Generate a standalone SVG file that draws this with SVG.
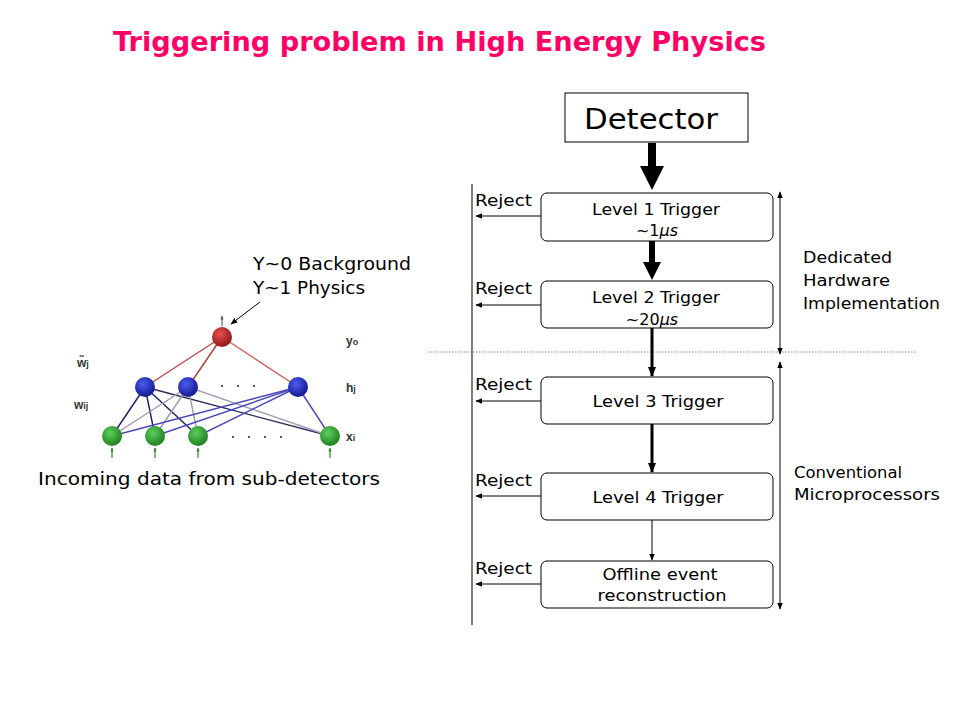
<svg xmlns="http://www.w3.org/2000/svg" width="960" height="720" viewBox="0 0 960 720">
<style>
.t{font-family:"DejaVu Sans","Liberation Sans",sans-serif;fill:#000}
.box{fill:#fff;stroke:#000;stroke-width:1}
.lbl{font-size:16px}
.rej{font-size:15px}
.thin{stroke:#000;stroke-width:1;fill:none}
.nn{font-family:"Liberation Sans",sans-serif;font-size:12px;font-weight:bold;fill:#333}
</style>
<defs>
<marker id="ah" viewBox="0 0 10 10" refX="9" refY="5" markerWidth="7" markerHeight="7" markerUnits="userSpaceOnUse" orient="auto-start-reverse"><path d="M0,1 L10,5 L0,9 z" fill="#000"/></marker>
<marker id="ah2" viewBox="0 0 10 10" refX="9" refY="5" markerWidth="10" markerHeight="10" markerUnits="userSpaceOnUse" orient="auto-start-reverse"><path d="M0,1 L10,5 L0,9 z" fill="#000"/></marker>
<marker id="ahg" viewBox="0 0 10 10" refX="9" refY="5" markerWidth="4" markerHeight="4" markerUnits="userSpaceOnUse" orient="auto"><path d="M0,1 L10,5 L0,9 z" fill="#2a8a2a"/></marker>
<marker id="ahk" viewBox="0 0 10 10" refX="9" refY="5" markerWidth="4" markerHeight="4" markerUnits="userSpaceOnUse" orient="auto"><path d="M0,1 L10,5 L0,9 z" fill="#555"/></marker>
<radialGradient id="gr" cx="0.4" cy="0.35" r="0.7"><stop offset="0" stop-color="#e85050"/><stop offset="1" stop-color="#8a1414"/></radialGradient>
<radialGradient id="gb" cx="0.4" cy="0.35" r="0.7"><stop offset="0" stop-color="#4a5cf0"/><stop offset="1" stop-color="#10148a"/></radialGradient>
<radialGradient id="gg" cx="0.4" cy="0.35" r="0.7"><stop offset="0" stop-color="#5cd05c"/><stop offset="1" stop-color="#1c7a1c"/></radialGradient>
</defs>
<rect width="960" height="720" fill="#fff"/>
<text x="113" y="51" font-family="DejaVu Sans,Liberation Sans,sans-serif" font-weight="bold" font-size="27" fill="#ff0066" textLength="653" lengthAdjust="spacingAndGlyphs">Triggering problem in High Energy Physics</text>

<!-- neural network picture -->
<g id="network">
<g stroke-width="1.4">
<line x1="222" y1="337" x2="145" y2="387" stroke="#c04848"/>
<line x1="222" y1="337" x2="188" y2="387" stroke="#b03a3a"/>
<line x1="222" y1="337" x2="298" y2="387" stroke="#d06060"/>
<line x1="145" y1="387" x2="112" y2="436" stroke="#1c1c5c"/>
<line x1="145" y1="387" x2="155" y2="436" stroke="#1c1c5c"/>
<line x1="145" y1="387" x2="198" y2="436" stroke="#1c1c5c"/>
<line x1="145" y1="387" x2="330" y2="436" stroke="#2a2a5a"/>
<line x1="188" y1="387" x2="112" y2="436" stroke="#9a9ab0"/>
<line x1="188" y1="387" x2="155" y2="436" stroke="#9a9ab0"/>
<line x1="188" y1="387" x2="198" y2="436" stroke="#9a9ab0"/>
<line x1="188" y1="387" x2="330" y2="436" stroke="#a0a0b4"/>
<line x1="298" y1="387" x2="112" y2="436" stroke="#4848b8"/>
<line x1="298" y1="387" x2="155" y2="436" stroke="#4848b8"/>
<line x1="298" y1="387" x2="198" y2="436" stroke="#4848b8"/>
<line x1="298" y1="387" x2="330" y2="436" stroke="#4848b8"/>
</g>
<g stroke="#2a8a2a" stroke-width="1.2">
<line x1="112" y1="458" x2="112" y2="448" marker-end="url(#ahg)"/><line x1="155" y1="458" x2="155" y2="448" marker-end="url(#ahg)"/><line x1="198" y1="458" x2="198" y2="448" marker-end="url(#ahg)"/><line x1="330" y1="458" x2="330" y2="448" marker-end="url(#ahg)"/>
</g>
<line x1="222" y1="326" x2="222" y2="316" stroke="#555" stroke-width="1" marker-end="url(#ahk)"/>
<circle cx="222" cy="337" r="10" fill="url(#gr)"/>
<circle cx="145" cy="387" r="10" fill="url(#gb)"/>
<circle cx="188" cy="387" r="10" fill="url(#gb)"/>
<circle cx="298" cy="387" r="10" fill="url(#gb)"/>
<circle cx="112" cy="436" r="10" fill="url(#gg)"/>
<circle cx="155" cy="436" r="10" fill="url(#gg)"/>
<circle cx="198" cy="436" r="10" fill="url(#gg)"/>
<circle cx="330" cy="436" r="10" fill="url(#gg)"/>
<g fill="#333">
<circle cx="222" cy="386" r="1.1"/><circle cx="238" cy="386" r="1.1"/><circle cx="254" cy="386" r="1.1"/>
<circle cx="233" cy="437" r="1.1"/><circle cx="249" cy="437" r="1.1"/><circle cx="265" cy="437" r="1.1"/><circle cx="281" cy="437" r="1.1"/>
</g>
<text class="nn" x="346" y="345">y<tspan font-size="9">o</tspan></text>
<text class="nn" x="77" y="367">w̃<tspan font-size="9">j</tspan></text>
<text class="nn" x="346" y="392">h<tspan font-size="9">j</tspan></text>
<text class="nn" x="74" y="409">w<tspan font-size="9">ij</tspan></text>
<text class="nn" x="346" y="441">x<tspan font-size="9">i</tspan></text>
</g>
<g id="nn-label">
<text class="t" x="253" y="270" font-size="18" textLength="158" lengthAdjust="spacingAndGlyphs">Y~0 Background</text>
<text class="t" x="253" y="294" font-size="18" textLength="112" lengthAdjust="spacingAndGlyphs">Y~1 Physics</text>
<line x1="260" y1="302" x2="231" y2="324" stroke="#000" stroke-width="1" marker-end="url(#ah)"/>
</g>
<text class="t" x="38" y="485" font-size="18" textLength="342" lengthAdjust="spacingAndGlyphs">Incoming data from sub-detectors</text>

<!-- flowchart -->
<g id="connectors">
<line x1="472" y1="184" x2="472" y2="625" class="thin"/>
<line x1="428" y1="352" x2="916" y2="352" stroke="#888" stroke-width="1" stroke-dasharray="1.5,1.5"/>
<rect x="648" y="143" width="8" height="24" fill="#000"/>
<path d="M640,166 L664,166 L652,190 z" fill="#000"/>
<rect x="649" y="241" width="6" height="22" fill="#000"/>
<path d="M643,262 L661,262 L652,280 z" fill="#000"/>
<line x1="652" y1="328" x2="652" y2="376" stroke="#000" stroke-width="3" marker-end="url(#ah2)"/>
<line x1="652" y1="424" x2="652" y2="472" stroke="#000" stroke-width="3" marker-end="url(#ah2)"/>
<line x1="652" y1="520" x2="652" y2="560" stroke="#000" stroke-width="1" marker-end="url(#ah)"/>
<line x1="541" y1="216" x2="476" y2="216" class="thin" marker-end="url(#ah)"/>
<line x1="541" y1="305" x2="476" y2="305" class="thin" marker-end="url(#ah)"/>
<line x1="541" y1="401" x2="476" y2="401" class="thin" marker-end="url(#ah)"/>
<line x1="541" y1="496" x2="476" y2="496" class="thin" marker-end="url(#ah)"/>
<line x1="541" y1="584" x2="476" y2="584" class="thin" marker-end="url(#ah)"/>
<line x1="780" y1="192" x2="780" y2="354" class="thin" marker-start="url(#ah)" marker-end="url(#ah)"/>
<line x1="780" y1="362" x2="780" y2="609" class="thin" marker-start="url(#ah)" marker-end="url(#ah)"/>
</g>
<g id="detector"><rect x="565" y="93" width="183" height="49" class="box"/><text class="t" x="651" y="129" font-size="28" text-anchor="middle" textLength="134" lengthAdjust="spacingAndGlyphs">Detector</text></g>
<g id="level1"><rect x="541" y="193" width="232" height="48" rx="6" class="box"/><text class="t lbl" x="656" y="215" text-anchor="middle" textLength="128" lengthAdjust="spacingAndGlyphs">Level 1 Trigger</text><text class="t lbl" x="657" y="236" text-anchor="middle">~1<tspan font-style="italic">μs</tspan></text></g>
<g id="level2"><rect x="541" y="281" width="232" height="47" rx="6" class="box"/><text class="t lbl" x="656" y="303" text-anchor="middle" textLength="128" lengthAdjust="spacingAndGlyphs">Level 2 Trigger</text><text class="t lbl" x="652" y="325" text-anchor="middle">~20<tspan font-style="italic">μs</tspan></text></g>
<g id="level3"><rect x="541" y="377" width="232" height="47" rx="6" class="box"/><text class="t lbl" x="658" y="407" text-anchor="middle" textLength="131" lengthAdjust="spacingAndGlyphs">Level 3 Trigger</text></g>
<g id="level4"><rect x="541" y="473" width="232" height="47" rx="6" class="box"/><text class="t lbl" x="658" y="503" text-anchor="middle" textLength="131" lengthAdjust="spacingAndGlyphs">Level 4 Trigger</text></g>
<g id="offline"><rect x="541" y="561" width="232" height="47" rx="6" class="box"/><text class="t lbl" x="660" y="580" text-anchor="middle" textLength="115" lengthAdjust="spacingAndGlyphs">Offline event</text><text class="t lbl" x="662" y="601" text-anchor="middle" textLength="129" lengthAdjust="spacingAndGlyphs">reconstruction</text></g>
<g id="rejects">
<text class="t rej" x="475" y="206" textLength="57" lengthAdjust="spacingAndGlyphs">Reject</text>
<text class="t rej" x="475" y="294" textLength="57" lengthAdjust="spacingAndGlyphs">Reject</text>
<text class="t rej" x="475" y="390" textLength="57" lengthAdjust="spacingAndGlyphs">Reject</text>
<text class="t rej" x="475" y="486" textLength="57" lengthAdjust="spacingAndGlyphs">Reject</text>
<text class="t rej" x="475" y="574" textLength="57" lengthAdjust="spacingAndGlyphs">Reject</text>
</g>
<g id="side-labels">
<text class="t lbl" x="803" y="263" textLength="89" lengthAdjust="spacingAndGlyphs">Dedicated</text>
<text class="t lbl" x="803" y="286" textLength="87" lengthAdjust="spacingAndGlyphs">Hardware</text>
<text class="t lbl" x="803" y="309" textLength="137" lengthAdjust="spacingAndGlyphs">Implementation</text>
<text class="t lbl" x="794" y="478" textLength="108" lengthAdjust="spacingAndGlyphs">Conventional</text>
<text class="t lbl" x="794" y="500" textLength="146" lengthAdjust="spacingAndGlyphs">Microprocessors</text>
</g>
</svg>
